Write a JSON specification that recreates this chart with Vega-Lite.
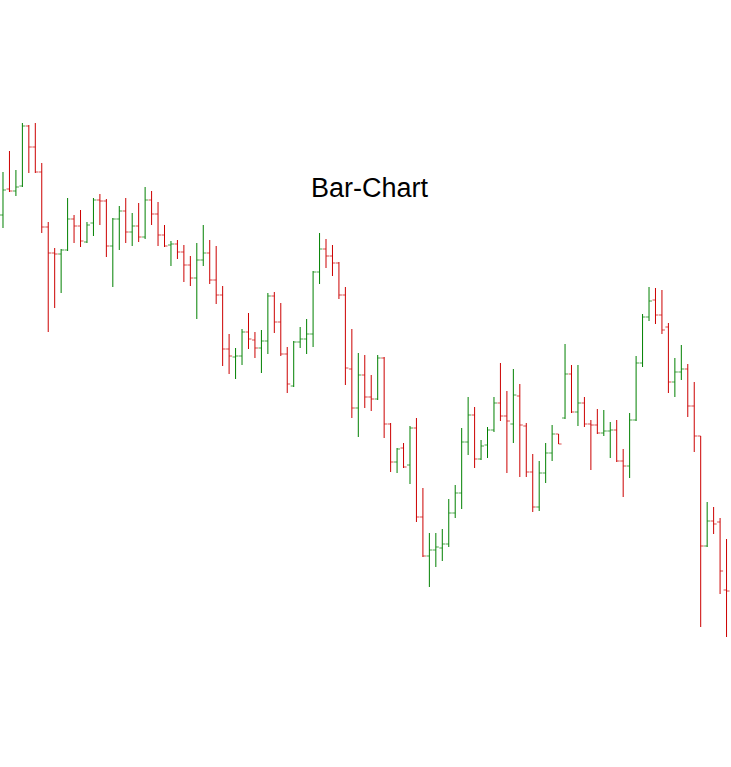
{
  "$schema": "https://vega.github.io/schema/vega-lite/v6.json",
  "width": 731,
  "height": 767,
  "padding": 0,
  "autosize": {"type": "none"},
  "background": "white",
  "title": {"text": "Bar-Chart", "fontSize": 27, "font": "Liberation Sans", "fontWeight": "normal", "color": "black", "anchor": "middle", "offset": -224, "baseline": "alphabetic", "dx": 4},
  "config": {"view": {"stroke": null}},
  "data": {"values": [
    {"i":0,"o":58.5,"h":62.8,"l":57.2,"c":61.0},
    {"i":1,"o":61.1,"h":64.9,"l":60.8,"c":60.9},
    {"i":2,"o":60.9,"h":63.0,"l":60.4,"c":61.3},
    {"i":3,"o":61.4,"h":67.7,"l":61.3,"c":67.4},
    {"i":4,"o":67.4,"h":67.5,"l":62.7,"c":65.3},
    {"i":5,"o":65.3,"h":67.7,"l":62.7,"c":62.8},
    {"i":6,"o":62.8,"h":63.7,"l":56.7,"c":57.3},
    {"i":7,"o":57.3,"h":57.8,"l":46.8,"c":54.7},
    {"i":8,"o":54.7,"h":55.2,"l":49.2,"c":54.6},
    {"i":9,"o":54.6,"h":55.1,"l":50.7,"c":55.0},
    {"i":10,"o":55.0,"h":60.2,"l":54.9,"c":58.1},
    {"i":11,"o":58.1,"h":58.5,"l":55.7,"c":57.4},
    {"i":12,"o":57.4,"h":59.0,"l":55.3,"c":55.9},
    {"i":13,"o":55.8,"h":57.8,"l":55.7,"c":57.5},
    {"i":14,"o":57.7,"h":60.2,"l":56.4,"c":60.0},
    {"i":15,"o":60.0,"h":60.6,"l":57.5,"c":59.9},
    {"i":16,"o":59.9,"h":60.1,"l":54.3,"c":55.4},
    {"i":17,"o":55.4,"h":58.2,"l":51.3,"c":58.1},
    {"i":18,"o":58.1,"h":59.4,"l":55.0,"c":58.9},
    {"i":19,"o":58.9,"h":60.2,"l":55.7,"c":56.8},
    {"i":20,"o":56.8,"h":58.7,"l":55.4,"c":57.4},
    {"i":21,"o":57.4,"h":59.7,"l":55.8,"c":56.3},
    {"i":22,"o":56.3,"h":61.3,"l":56.1,"c":60.0},
    {"i":23,"o":60.0,"h":60.9,"l":57.5,"c":58.6},
    {"i":24,"o":58.6,"h":59.8,"l":55.4,"c":56.5},
    {"i":25,"o":56.5,"h":57.5,"l":55.3,"c":55.4},
    {"i":26,"o":55.5,"h":55.9,"l":53.4,"c":55.6},
    {"i":27,"o":55.6,"h":56.0,"l":54.1,"c":54.8},
    {"i":28,"o":54.8,"h":55.5,"l":51.8,"c":53.5},
    {"i":29,"o":53.5,"h":54.4,"l":51.4,"c":52.2},
    {"i":30,"o":52.2,"h":55.7,"l":48.1,"c":54.0},
    {"i":31,"o":54.0,"h":57.5,"l":53.4,"c":54.7},
    {"i":32,"o":54.7,"h":56.0,"l":51.6,"c":52.0},
    {"i":33,"o":52.0,"h":55.4,"l":49.6,"c":50.5},
    {"i":34,"o":50.5,"h":51.4,"l":43.4,"c":45.1},
    {"i":35,"o":45.1,"h":46.6,"l":42.6,"c":44.4},
    {"i":36,"o":44.3,"h":45.2,"l":42.1,"c":44.4},
    {"i":37,"o":44.4,"h":47.1,"l":43.5,"c":46.8},
    {"i":38,"o":46.8,"h":48.7,"l":45.1,"c":46.1},
    {"i":39,"o":46.0,"h":46.8,"l":44.2,"c":45.2},
    {"i":40,"o":45.2,"h":47.0,"l":42.7,"c":45.9},
    {"i":41,"o":45.9,"h":50.7,"l":44.6,"c":50.4},
    {"i":42,"o":50.4,"h":50.8,"l":46.7,"c":47.8},
    {"i":43,"o":47.8,"h":49.7,"l":44.4,"c":44.6},
    {"i":44,"o":44.6,"h":45.3,"l":40.7,"c":41.6},
    {"i":45,"o":41.4,"h":45.9,"l":41.3,"c":45.8},
    {"i":46,"o":45.8,"h":47.3,"l":45.2,"c":46.1},
    {"i":47,"o":46.1,"h":48.1,"l":44.6,"c":46.6},
    {"i":48,"o":46.6,"h":52.9,"l":45.3,"c":52.8},
    {"i":49,"o":52.8,"h":56.7,"l":51.6,"c":55.1},
    {"i":50,"o":55.1,"h":56.1,"l":53.2,"c":54.4},
    {"i":51,"o":54.4,"h":55.5,"l":52.4,"c":53.7},
    {"i":52,"o":53.7,"h":53.8,"l":50.1,"c":50.5},
    {"i":53,"o":50.5,"h":51.3,"l":41.5,"c":43.2},
    {"i":54,"o":43.1,"h":47.1,"l":38.2,"c":39.2},
    {"i":55,"o":39.2,"h":44.7,"l":36.3,"c":42.5},
    {"i":56,"o":42.5,"h":44.5,"l":39.2,"c":40.3},
    {"i":57,"o":40.3,"h":42.5,"l":38.9,"c":40.1},
    {"i":58,"o":40.1,"h":44.5,"l":40.0,"c":44.2},
    {"i":59,"o":44.2,"h":44.3,"l":36.2,"c":37.6},
    {"i":60,"o":37.6,"h":37.7,"l":32.8,"c":33.8},
    {"i":61,"o":33.8,"h":35.2,"l":32.7,"c":35.1},
    {"i":62,"o":35.2,"h":35.7,"l":33.2,"c":33.3},
    {"i":63,"o":33.5,"h":37.4,"l":31.6,"c":37.2},
    {"i":64,"o":37.2,"h":38.2,"l":27.8,"c":28.3},
    {"i":65,"o":28.3,"h":31.2,"l":24.3,"c":24.4},
    {"i":66,"o":24.4,"h":26.7,"l":21.3,"c":25.0},
    {"i":67,"o":25.0,"h":26.7,"l":23.3,"c":25.3},
    {"i":68,"o":25.2,"h":27.1,"l":23.9,"c":25.6},
    {"i":69,"o":25.6,"h":30.1,"l":25.3,"c":28.7},
    {"i":70,"o":28.7,"h":31.5,"l":28.2,"c":30.7},
    {"i":71,"o":30.7,"h":37.2,"l":29.1,"c":35.8},
    {"i":72,"o":35.8,"h":40.3,"l":34.5,"c":38.5},
    {"i":73,"o":38.5,"h":39.3,"l":33.2,"c":34.1},
    {"i":74,"o":34.1,"h":36.0,"l":34.0,"c":35.4},
    {"i":75,"o":35.5,"h":37.3,"l":34.2,"c":37.0},
    {"i":76,"o":37.0,"h":40.3,"l":36.8,"c":39.7},
    {"i":77,"o":39.7,"h":43.7,"l":37.9,"c":38.4},
    {"i":78,"o":38.4,"h":40.9,"l":32.7,"c":37.9},
    {"i":79,"o":37.6,"h":43.1,"l":35.7,"c":40.5},
    {"i":80,"o":40.4,"h":41.6,"l":32.3,"c":37.5},
    {"i":81,"o":37.4,"h":37.7,"l":32.3,"c":32.8},
    {"i":82,"o":32.8,"h":34.6,"l":28.8,"c":29.3},
    {"i":83,"o":29.3,"h":33.9,"l":28.9,"c":32.7},
    {"i":84,"o":32.7,"h":35.7,"l":31.7,"c":34.7},
    {"i":85,"o":34.7,"h":37.5,"l":33.9,"c":36.6},
    {"i":86,"o":36.6,"h":36.6,"l":35.6,"c":35.6},
    {"i":87,"o":38.2,"h":45.6,"l":38.1,"c":42.6},
    {"i":88,"o":42.6,"h":43.5,"l":38.7,"c":38.8},
    {"i":89,"o":38.8,"h":43.5,"l":37.4,"c":39.7},
    {"i":90,"o":39.7,"h":40.3,"l":37.3,"c":37.6},
    {"i":91,"o":37.6,"h":38.0,"l":33.0,"c":37.5},
    {"i":92,"o":37.5,"h":39.1,"l":36.6,"c":36.7},
    {"i":93,"o":36.7,"h":39.0,"l":36.4,"c":36.9},
    {"i":94,"o":36.9,"h":37.8,"l":34.2,"c":37.0},
    {"i":95,"o":37.0,"h":38.0,"l":33.8,"c":33.9},
    {"i":96,"o":33.9,"h":35.1,"l":30.3,"c":33.4},
    {"i":97,"o":33.4,"h":38.7,"l":32.2,"c":38.0},
    {"i":98,"o":38.0,"h":44.4,"l":37.9,"c":43.7},
    {"i":99,"o":43.7,"h":48.6,"l":43.3,"c":48.3},
    {"i":100,"o":48.3,"h":51.3,"l":47.9,"c":49.9},
    {"i":101,"o":50.0,"h":51.2,"l":47.6,"c":48.5},
    {"i":102,"o":48.5,"h":51.0,"l":46.6,"c":47.0},
    {"i":103,"o":47.3,"h":47.7,"l":40.7,"c":41.8},
    {"i":104,"o":41.8,"h":44.2,"l":40.3,"c":42.8},
    {"i":105,"o":42.8,"h":45.5,"l":42.0,"c":43.1},
    {"i":106,"o":43.1,"h":43.6,"l":38.3,"c":39.4},
    {"i":107,"o":39.4,"h":41.8,"l":34.8,"c":36.4},
    {"i":108,"o":36.4,"h":36.4,"l":17.3,"c":25.4},
    {"i":109,"o":25.4,"h":29.8,"l":25.3,"c":27.9},
    {"i":110,"o":27.9,"h":29.3,"l":26.6,"c":27.6},
    {"i":111,"o":27.8,"h":28.2,"l":20.6,"c":22.9},
    {"i":112,"o":21.0,"h":26.1,"l":16.3,"c":20.9}
  ]},
  "encoding": {
    "x": {"field": "i", "type": "quantitative", "scale": {"domain": [-0.464, 112.69], "nice": false, "zero": false}, "axis": null},
    "color": {"condition": {"test": "datum.c >= datum.o", "value": "#008000"}, "value": "#cc0000"}
  },
  "layer": [
    {
      "mark": {"type": "rule", "strokeWidth": 1},
      "encoding": {
        "y": {"field": "l", "type": "quantitative", "scale": {"domain": [3.3, 80], "nice": false, "zero": false}, "axis": null},
        "y2": {"field": "h"}
      }
    },
    {
      "mark": {"type": "tick", "orient": "horizontal", "size": 3, "thickness": 1, "xOffset": -1.5},
      "encoding": {"y": {"field": "o", "type": "quantitative", "axis": null}}
    },
    {
      "mark": {"type": "tick", "orient": "horizontal", "size": 3, "thickness": 1, "xOffset": 1.5},
      "encoding": {"y": {"field": "c", "type": "quantitative", "axis": null}}
    }
  ]
}
